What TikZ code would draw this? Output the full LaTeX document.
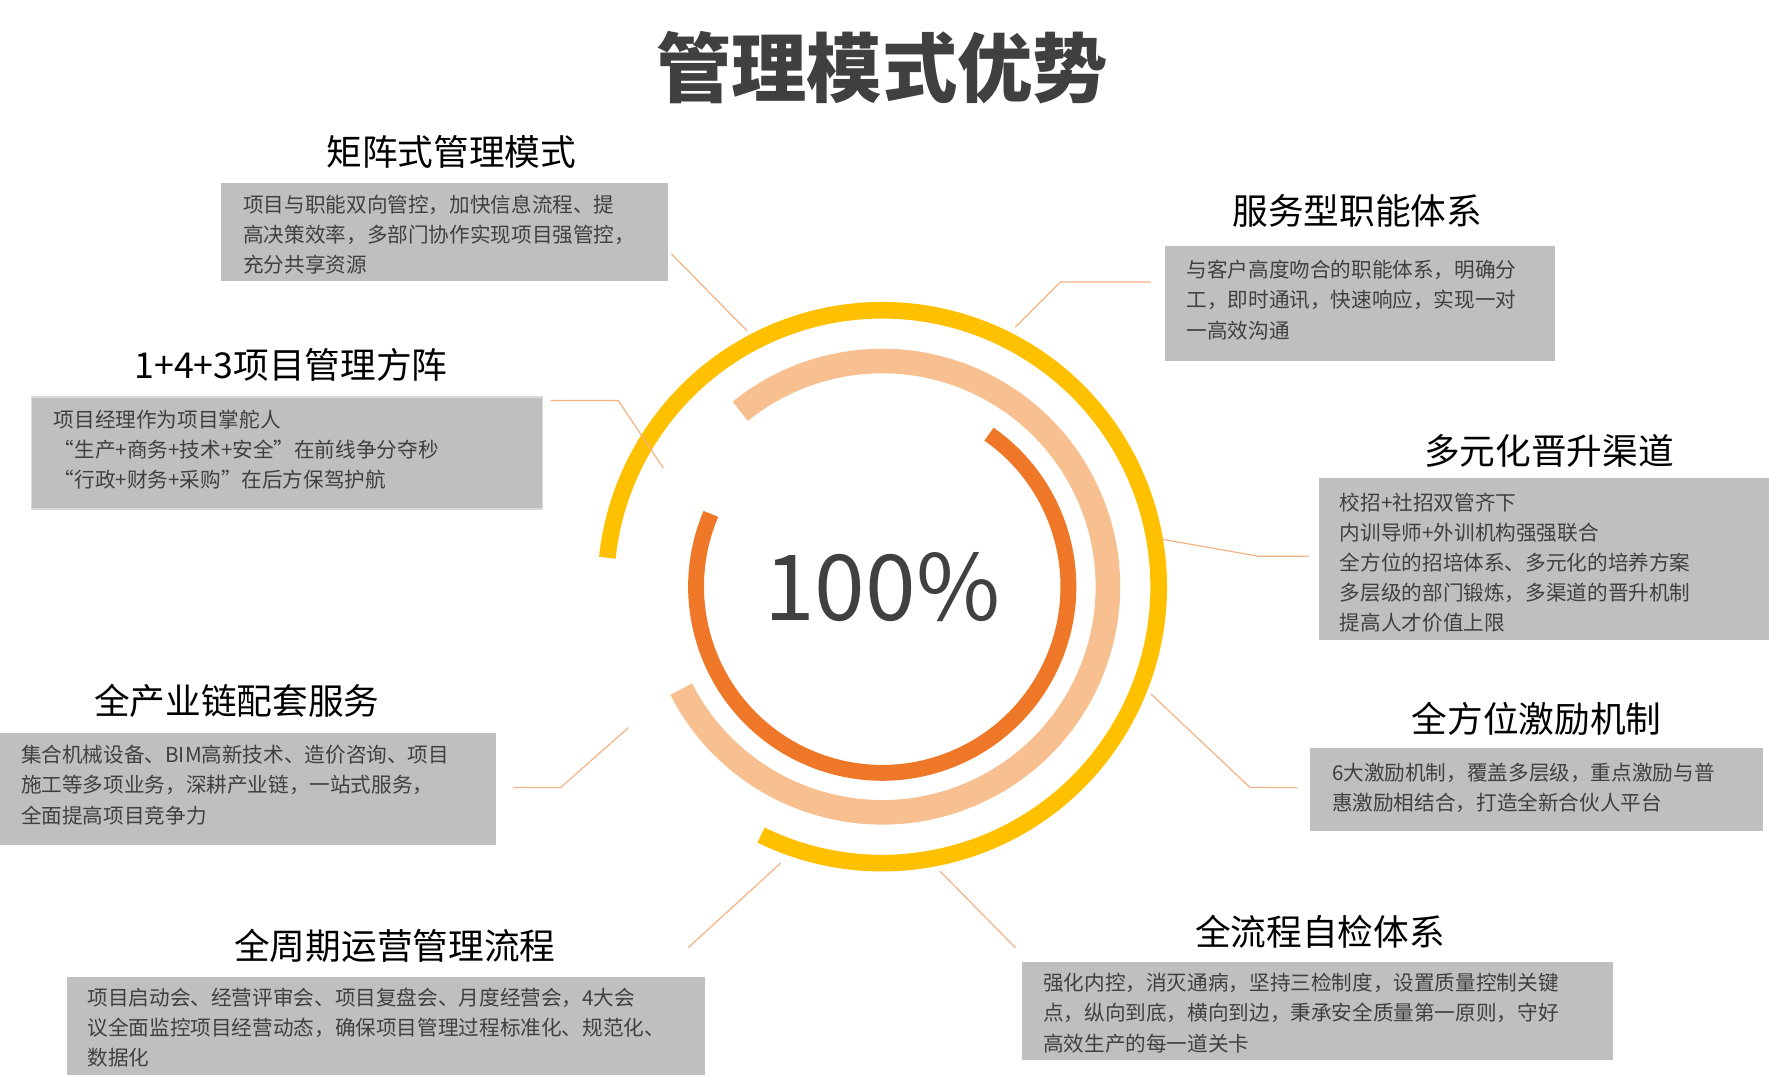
\documentclass[tikz,border=0pt]{standalone}
\usepackage{fontspec}
\usetikzlibrary{calc}
\setmainfont{Noto Sans CJK SC}
\definecolor{boxgray}{HTML}{BFBFBF}
\definecolor{ringgold}{HTML}{FFC000}
\definecolor{ringpeach}{HTML}{F8C090}
\definecolor{ringorange}{HTML}{EE7728}
\definecolor{txtgray}{HTML}{404040}
\definecolor{leadline}{HTML}{F4B183}

\begin{document}
\begin{tikzpicture}[x=0.1mm,y=-0.1mm]
  \tikzstyle{infobox}=[fill=boxgray,draw=none]
  \tikzstyle{infotext}=[anchor=north west,align=left,inner sep=0pt,text=txtgray,
                        font=\fontsize{5.2pt}{7.6pt}\selectfont]
  \tikzstyle{heading}=[text=black,font=\fontsize{9pt}{10pt}\selectfont]
  \tikzstyle{leader}=[draw=leadline,line width=0.3pt]

  \useasboundingbox (0,0) rectangle (1568,955);

  \node[text=txtgray,font=\fontsize{19pt}{20pt}\bfseries\selectfont] (title) at (782,60) {管理模式优势};

  % rings
  \coordinate (O) at (782,520);
  \draw[ringgold,line width=4.2pt] ($(O)+(116:245)$) arc[start angle=116,end angle=-174,radius=245];
  \draw[ringpeach,line width=6.2pt] ($(O)+(153:200)$) arc[start angle=153,end angle=-129,radius=200];
  \draw[ringorange,line width=4pt] ($(O)+(203:165)$) arc[start angle=203,end angle=-55,radius=165];
  \node[text=txtgray,font=\fontsize{23pt}{24pt}\selectfont] (pct) at (O) {100\%};

  % boxes
  \fill[infobox] (196,162) rectangle (592,249);
  \fill[infobox] (1033,218) rectangle (1378,320);
  \filldraw[infobox,draw=gray!30] (28,352) rectangle (481,451);
  \fill[infobox] (1169,424) rectangle (1568,567);
  \fill[infobox] (0,650) rectangle (440,749);
  \fill[infobox] (1161,663) rectangle (1563,737);
  \fill[infobox] (59,866) rectangle (625,953);
  \fill[infobox] (906,853) rectangle (1430,940);

  \node[heading] (h1) at (400,135) {矩阵式管理模式};
  \node[heading] (h2) at (1203,187) {服务型职能体系};
  \node[heading] (h3) at (258,323) {1+4+3项目管理方阵};
  \node[heading] (h4) at (1373,400) {多元化晋升渠道};
  \node[heading] (h5) at (210,621) {全产业链配套服务};
  \node[heading] (h6) at (1362,637) {全方位激励机制};
  \node[heading] (h7) at (350,838) {全周期运营管理流程};
  \node[heading] (h8) at (1170,826) {全流程自检体系};

  \node[infotext] (t1) at (215,172) {项目与职能双向管控，加快信息流程、提\\高决策效率，多部门协作实现项目强管控，\\充分共享资源};
  \node[infotext] (t2) at (1051,230) {与客户高度吻合的职能体系，明确分\\工，即时通讯，快速响应，实现一对\\一高效沟通};
  \node[infotext] (t3) at (47,363) {项目经理作为项目掌舵人\\“生产+商务+技术+安全”在前线争分夺秒\\“行政+财务+采购”在后方保驾护航};
  \node[infotext] (t4) at (1187,436) {校招+社招双管齐下\\内训导师+外训机构强强联合\\全方位的招培体系、多元化的培养方案\\多层级的部门锻炼，多渠道的晋升机制\\提高人才价值上限};
  \node[infotext] (t5) at (18,660) {集合机械设备、BIM高新技术、造价咨询、项目\\施工等多项业务，深耕产业链，一站式服务，\\全面提高项目竞争力};
  \node[infotext] (t6) at (1180,676) {6大激励机制，覆盖多层级，重点激励与普\\惠激励相结合，打造全新合伙人平台};
  \node[infotext] (t7) at (77,875) {项目启动会、经营评审会、项目复盘会、月度经营会，4大会\\议全面监控项目经营动态，确保项目管理过程标准化、规范化、\\数据化};
  \node[infotext] (t8) at (924,862) {强化内控，消灭通病，坚持三检制度，设置质量控制关键\\点，纵向到底，横向到边，秉承安全质量第一原则，守好\\高效生产的每一道关卡};

  % leader lines
  \draw[leader] (595,225) -- (662,293);
  \draw[leader] (900,290) -- (940,250) -- (1020,250);
  \draw[leader] (488,355) -- (548,355) -- (588,415);
  \draw[leader] (1030,478) -- (1115,493) -- (1160,493);
  \draw[leader] (455,698) -- (497,698) -- (557,645);
  \draw[leader] (1020,615) -- (1108,698) -- (1150,698);
  \draw[leader] (610,840) -- (692,765);
  \draw[leader] (833,772) -- (900,840);
\end{tikzpicture}
\end{document}
